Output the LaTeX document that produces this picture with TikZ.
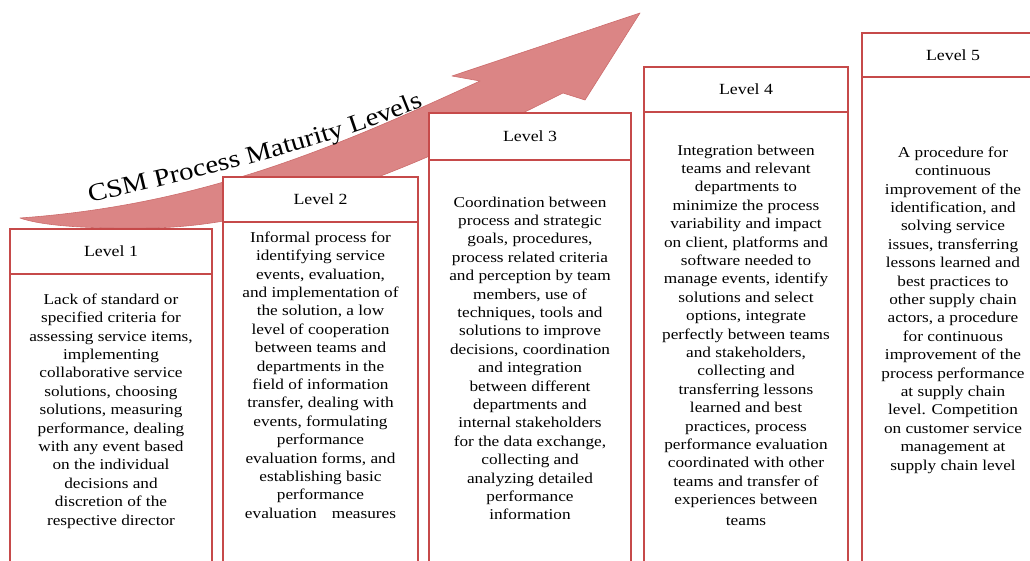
\documentclass[tikz,border=0pt]{standalone}
\usepackage{fontspec}
\setmainfont{Liberation Serif}
\newfontfamily\wideserif[FakeStretch=1.15]{Liberation Serif}
\newcommand\csmtitlefont{\wideserif\fontsize{25}{28}\selectfont}
\usetikzlibrary{decorations.text}
\definecolor{boxred}{RGB}{198,74,74}
\definecolor{arrowfill}{RGB}{219,133,133}
\definecolor{arrowedge}{RGB}{204,108,108}
\begin{document}
\begin{tikzpicture}[x=1pt,y=-1pt,
  levelbox/.style={draw=boxred, line width=2.9pt, fill=white},
  hdrbox/.style={levelbox, inner sep=0pt, font=\wideserif\fontsize{15.5}{18}\selectfont, text=black},
  bodytext/.style={font=\wideserif\fontsize{15}{18.4}\selectfont, align=center, text=black, inner sep=0pt, anchor=north},
]
\useasboundingbox (0,0) rectangle (1030,561);
\clip (0,0) rectangle (1030,561);

% rising arrow behind the level boxes
\filldraw[fill=arrowfill, draw=arrowedge, line width=0.6pt, line join=round]
  (20,218) .. controls (200,205) and (330,150) .. (480,81)
  -- (452,76) -- (640,13) -- (585,100) -- (563,93)
  .. controls (420,165) and (280,226) .. (150,228)
  .. controls (80,229) and (40,225) .. (20,218) -- cycle;

% title along the arrow
\path[decorate, decoration={text along path, text align=left,
    text={|\csmtitlefont|CSM Process Maturity Levels}}]
  (90,203) .. controls (190,179) and (320,150) .. (420,108);

% level 1
\draw[levelbox] (10,274) rectangle (212,590);
\node[hdrbox, minimum width=202pt, minimum height=45pt] (h1) at (111,251.5) {Level 1};
\node[bodytext] (b1) at (111,293.5) {Lack of standard or\\specified criteria for\\assessing service items,\\implementing\\collaborative service\\solutions, choosing\\solutions, measuring\\performance, dealing\\with any event based\\on the individual\\decisions and\\discretion of the\\respective director};

% level 2
\draw[levelbox] (223,222) rectangle (418,590);
\node[hdrbox, minimum width=195pt, minimum height=45pt] (h2) at (320.5,199.5) {Level 2};
\node[bodytext] (b2) at (320.5,231.5) {Informal process for\\identifying service\\events, evaluation,\\and implementation of\\the solution, a low\\level of cooperation\\between teams and\\departments in the\\field of information\\transfer, dealing with\\events, formulating\\performance\\evaluation forms, and\\establishing basic\\performance\\evaluation\hspace{1em}measures};

% level 3
\draw[levelbox] (429,160) rectangle (631,590);
\node[hdrbox, minimum width=202pt, minimum height=47pt] (h3) at (530,136.5) {Level 3};
\node[bodytext] (b3) at (530,196.5) {Coordination between\\process and strategic\\goals, procedures,\\process related criteria\\and perception by team\\members, use of\\techniques, tools and\\solutions to improve\\decisions, coordination\\and integration\\between different\\departments and\\internal stakeholders\\for the data exchange,\\collecting and\\analyzing detailed\\performance\\information};

% level 4
\draw[levelbox] (644,112) rectangle (848,590);
\node[hdrbox, minimum width=204pt, minimum height=45pt] (h4) at (746,89.5) {Level 4};
\node[bodytext] (b4) at (746,144.5) {Integration between\\teams and relevant\\departments to\\minimize the process\\variability and impact\\on client, platforms and\\software needed to\\manage events, identify\\solutions and select\\options, integrate\\perfectly between teams\\and stakeholders,\\collecting and\\transferring lessons\\learned and best\\practices, process\\performance evaluation\\coordinated with other\\teams and transfer of\\experiences between\\[2pt]teams};

% level 5
\draw[levelbox] (862,77) rectangle (1044,590);
\node[hdrbox, minimum width=182pt, minimum height=44pt] (h5) at (953,55) {Level 5};
\node[bodytext] (b5) at (953,146.5) {A procedure for\\continuous\\improvement of the\\identification, and\\solving service\\issues, transferring\\lessons learned and\\best practices to\\other supply chain\\actors, a procedure\\for continuous\\improvement of the\\process performance\\at supply chain\\level. Competition\\on customer service\\management at\\supply chain level};
\end{tikzpicture}
\end{document}
